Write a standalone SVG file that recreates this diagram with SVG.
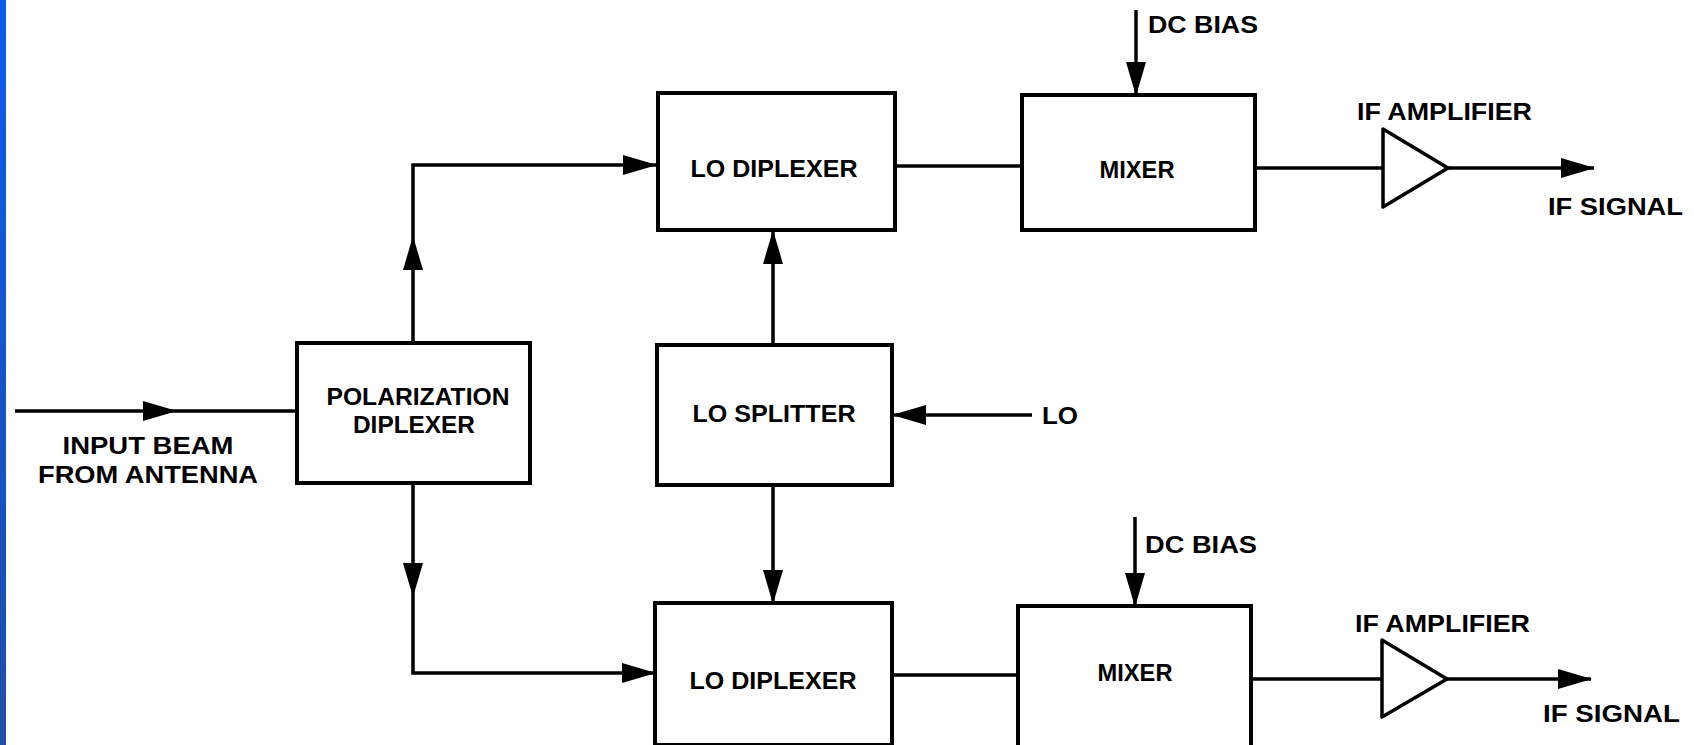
<svg xmlns="http://www.w3.org/2000/svg" width="1694" height="745" viewBox="0 0 1694 745">
<defs>
<linearGradient id="bar" x1="0" y1="0" x2="0" y2="1">
<stop offset="0" stop-color="#0a5cf0"/>
<stop offset="1" stop-color="#1f4ea6"/>
</linearGradient>
<marker id="ah" markerUnits="userSpaceOnUse" markerWidth="34" markerHeight="22" viewBox="0 0 34 22" refX="33" refY="11" orient="auto">
<path d="M0,1 L34,11 L0,21 Z" fill="#000"/>
</marker>
</defs>
<style>
.box{fill:#fff;stroke:#000;stroke-width:4}
.ln{fill:none;stroke:#000;stroke-width:3.5}
.amp{fill:#fff;stroke:#000;stroke-width:3.5;stroke-linejoin:round}
text{font-family:"Liberation Sans",Arial,Helvetica,sans-serif;font-weight:bold;font-size:23px;fill:#000}
.c{text-anchor:middle}
</style>
<rect width="1694" height="745" fill="#fff"/>
<rect x="0" y="0" width="6" height="745" fill="url(#bar)"/>

<g id="connectors">
<path class="ln" d="M15,411 L176,411" marker-end="url(#ah)"/>
<path class="ln" d="M176,411 L297,411"/>
<path class="ln" d="M413,343 L413,237" marker-end="url(#ah)"/>
<path class="ln" d="M413,237 L413,165 L656,165" marker-end="url(#ah)"/>
<path class="ln" d="M413,484 L413,596" marker-end="url(#ah)"/>
<path class="ln" d="M413,596 L413,673 L655,673" marker-end="url(#ah)"/>
<path class="ln" d="M773,345 L773,231" marker-end="url(#ah)"/>
<path class="ln" d="M773,485 L773,603" marker-end="url(#ah)"/>
<path class="ln" d="M1032,415 L893,415" marker-end="url(#ah)"/>
<path class="ln" d="M895,166 L1022,166"/>
<path class="ln" d="M892,675 L1018,675"/>
<path class="ln" d="M1136,10 L1136,95" marker-end="url(#ah)"/>
<path class="ln" d="M1135,517 L1135,606" marker-end="url(#ah)"/>
<path class="ln" d="M1255,168 L1383,168"/>
<path class="ln" d="M1251,679 L1382,679"/>
<path class="ln" d="M1448,168 L1594,168" marker-end="url(#ah)"/>
<path class="ln" d="M1447,679 L1591,679" marker-end="url(#ah)"/>
</g>

<g id="input-label">
<text class="c" x="148" y="454" textLength="171" lengthAdjust="spacingAndGlyphs">INPUT BEAM</text>
<text class="c" x="148" y="483" textLength="220" lengthAdjust="spacingAndGlyphs">FROM ANTENNA</text>
</g>

<g id="pol-diplexer">
<rect class="box" x="297" y="343" width="233" height="140"/>
<text class="c" x="418" y="405" textLength="183" lengthAdjust="spacingAndGlyphs">POLARIZATION</text>
<text class="c" x="414" y="433" textLength="122" lengthAdjust="spacingAndGlyphs">DIPLEXER</text>
</g>

<g id="lo-diplexer-top">
<rect class="box" x="658" y="93" width="237" height="137"/>
<text class="c" x="774" y="177" textLength="167" lengthAdjust="spacingAndGlyphs">LO DIPLEXER</text>
</g>

<g id="lo-splitter">
<rect class="box" x="657" y="345" width="235" height="140"/>
<text class="c" x="774" y="422" textLength="163" lengthAdjust="spacingAndGlyphs">LO SPLITTER</text>
</g>

<g id="lo-input">
<text x="1042" y="424" textLength="36" lengthAdjust="spacingAndGlyphs">LO</text>
</g>

<g id="lo-diplexer-bottom">
<rect class="box" x="655" y="603" width="237" height="142"/>
<text class="c" x="773" y="689" textLength="167" lengthAdjust="spacingAndGlyphs">LO DIPLEXER</text>
</g>

<g id="mixer-top">
<rect class="box" x="1022" y="95" width="233" height="135"/>
<text class="c" x="1137" y="178" textLength="75" lengthAdjust="spacingAndGlyphs">MIXER</text>
</g>

<g id="dc-bias-top">
<text x="1148" y="33" textLength="110" lengthAdjust="spacingAndGlyphs">DC BIAS</text>
</g>

<g id="mixer-bottom">
<rect class="box" x="1018" y="606" width="233" height="141"/>
<text class="c" x="1135" y="681" textLength="75" lengthAdjust="spacingAndGlyphs">MIXER</text>
</g>

<g id="dc-bias-bottom">
<text x="1145" y="553" textLength="112" lengthAdjust="spacingAndGlyphs">DC BIAS</text>
</g>

<g id="if-amp-top">
<path class="amp" d="M1383,129 L1448,168 L1383,207 Z"/>
<text x="1357" y="120" textLength="175" lengthAdjust="spacingAndGlyphs">IF AMPLIFIER</text>
</g>

<g id="if-signal-top">
<text x="1548" y="215" textLength="135" lengthAdjust="spacingAndGlyphs">IF SIGNAL</text>
</g>

<g id="if-amp-bottom">
<path class="amp" d="M1382,640 L1447,679 L1382,717 Z"/>
<text x="1355" y="632" textLength="175" lengthAdjust="spacingAndGlyphs">IF AMPLIFIER</text>
</g>

<g id="if-signal-bottom">
<text x="1543" y="722" textLength="137" lengthAdjust="spacingAndGlyphs">IF SIGNAL</text>
</g>
</svg>
